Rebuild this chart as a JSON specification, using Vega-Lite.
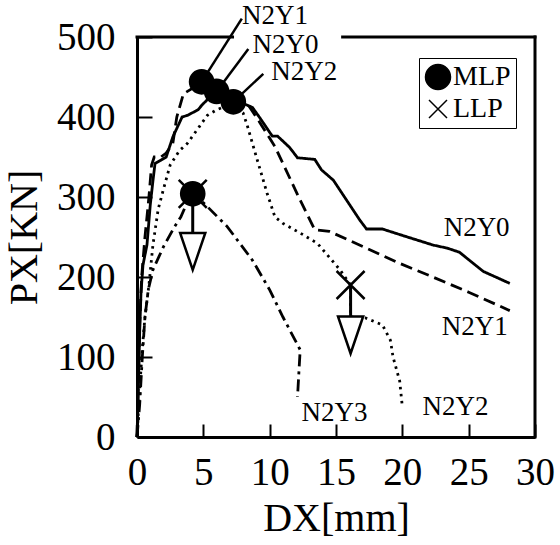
{
  "$schema": "https://vega.github.io/schema/vega-lite/v6.json",
  "autosize": "none",
  "width": 398,
  "height": 400,
  "padding": {"left": 137, "top": 37, "right": 25, "bottom": 108},
  "config": {
    "view": {"stroke": null},
    "font": "Liberation Serif, Times New Roman, serif",
    "axis": {
      "domainColor": "black", "domainWidth": 3, "tickColor": "black", "tickWidth": 2,
      "labelColor": "black", "labelFont": "Liberation Serif, Times New Roman, serif", "labelFontSize": 39,
      "titleFont": "Liberation Serif, Times New Roman, serif", "titleFontSize": 40, "titleFontWeight": "normal", "titleColor": "black",
      "grid": false, "labelFlush": false, "labelOverlap": false
    }
  },
  "datasets": {
    "curves": [
      {"s":"N2Y0","i":0,"x":0,"y":0},{"s":"N2Y0","i":1,"x":0.1,"y":60},{"s":"N2Y0","i":2,"x":0.2,"y":130},{"s":"N2Y0","i":3,"x":0.3,"y":180},{"s":"N2Y0","i":4,"x":0.45,"y":215},{"s":"N2Y0","i":5,"x":0.75,"y":240},{"s":"N2Y0","i":6,"x":1.0,"y":290},{"s":"N2Y0","i":7,"x":1.2,"y":320},{"s":"N2Y0","i":8,"x":1.36,"y":342},{"s":"N2Y0","i":9,"x":1.8,"y":346},{"s":"N2Y0","i":10,"x":2.2,"y":350},{"s":"N2Y0","i":11,"x":2.7,"y":375},{"s":"N2Y0","i":12,"x":3.4,"y":400},{"s":"N2Y0","i":13,"x":3.8,"y":402},{"s":"N2Y0","i":14,"x":4.6,"y":409},{"s":"N2Y0","i":15,"x":4.9,"y":415},{"s":"N2Y0","i":16,"x":5.5,"y":425},{"s":"N2Y0","i":17,"x":6.0,"y":432},{"s":"N2Y0","i":18,"x":6.6,"y":428},{"s":"N2Y0","i":19,"x":7.5,"y":422},{"s":"N2Y0","i":20,"x":8.0,"y":417},{"s":"N2Y0","i":21,"x":8.7,"y":412},{"s":"N2Y0","i":22,"x":9.3,"y":398},{"s":"N2Y0","i":23,"x":10.2,"y":376},{"s":"N2Y0","i":24,"x":10.6,"y":376},{"s":"N2Y0","i":25,"x":11.5,"y":362},{"s":"N2Y0","i":26,"x":12.1,"y":349},{"s":"N2Y0","i":27,"x":13.4,"y":347},{"s":"N2Y0","i":28,"x":13.9,"y":334},{"s":"N2Y0","i":29,"x":14.8,"y":321},{"s":"N2Y0","i":30,"x":16.8,"y":271},{"s":"N2Y0","i":31,"x":17.3,"y":260},{"s":"N2Y0","i":32,"x":18.5,"y":260},{"s":"N2Y0","i":33,"x":20,"y":252},{"s":"N2Y0","i":34,"x":22.3,"y":240},{"s":"N2Y0","i":35,"x":23.4,"y":236},{"s":"N2Y0","i":36,"x":24.3,"y":231},{"s":"N2Y0","i":37,"x":26.1,"y":207},{"s":"N2Y0","i":38,"x":28.1,"y":192},
      {"s":"N2Y1","i":0,"x":0,"y":0},{"s":"N2Y1","i":1,"x":0.1,"y":70},{"s":"N2Y1","i":2,"x":0.2,"y":140},{"s":"N2Y1","i":3,"x":0.35,"y":200},{"s":"N2Y1","i":4,"x":0.6,"y":250},{"s":"N2Y1","i":5,"x":0.9,"y":300},{"s":"N2Y1","i":6,"x":1.1,"y":340},{"s":"N2Y1","i":7,"x":1.3,"y":350},{"s":"N2Y1","i":8,"x":1.8,"y":350},{"s":"N2Y1","i":9,"x":2.2,"y":355},{"s":"N2Y1","i":10,"x":2.7,"y":367},{"s":"N2Y1","i":11,"x":3.0,"y":400},{"s":"N2Y1","i":12,"x":3.5,"y":429},{"s":"N2Y1","i":13,"x":4.2,"y":436},{"s":"N2Y1","i":14,"x":4.87,"y":444},{"s":"N2Y1","i":15,"x":5.5,"y":438},{"s":"N2Y1","i":16,"x":6.5,"y":432},{"s":"N2Y1","i":17,"x":7.5,"y":425},{"s":"N2Y1","i":18,"x":8.3,"y":417},{"s":"N2Y1","i":19,"x":9.3,"y":392},{"s":"N2Y1","i":20,"x":10.4,"y":363},{"s":"N2Y1","i":21,"x":12.3,"y":296},{"s":"N2Y1","i":22,"x":13.4,"y":259},{"s":"N2Y1","i":23,"x":14.5,"y":257},{"s":"N2Y1","i":24,"x":18.5,"y":227},{"s":"N2Y1","i":25,"x":19.8,"y":217},{"s":"N2Y1","i":26,"x":22,"y":202},{"s":"N2Y1","i":27,"x":25,"y":181},{"s":"N2Y1","i":28,"x":28.1,"y":158},
      {"s":"N2Y2","i":0,"x":0,"y":0},{"s":"N2Y2","i":1,"x":0.2,"y":60},{"s":"N2Y2","i":2,"x":0.4,"y":110},{"s":"N2Y2","i":3,"x":0.6,"y":150},{"s":"N2Y2","i":4,"x":0.9,"y":190},{"s":"N2Y2","i":5,"x":1.2,"y":240},{"s":"N2Y2","i":6,"x":1.6,"y":285},{"s":"N2Y2","i":7,"x":2.0,"y":310},{"s":"N2Y2","i":8,"x":2.5,"y":340},{"s":"N2Y2","i":9,"x":3.2,"y":358},{"s":"N2Y2","i":10,"x":3.8,"y":367},{"s":"N2Y2","i":11,"x":4.7,"y":388},{"s":"N2Y2","i":12,"x":5.3,"y":402},{"s":"N2Y2","i":13,"x":6.0,"y":409},{"s":"N2Y2","i":14,"x":6.6,"y":413},{"s":"N2Y2","i":15,"x":7.26,"y":416},{"s":"N2Y2","i":16,"x":8.0,"y":405},{"s":"N2Y2","i":17,"x":8.3,"y":390},{"s":"N2Y2","i":18,"x":9.0,"y":350},{"s":"N2Y2","i":19,"x":9.8,"y":305},{"s":"N2Y2","i":20,"x":10.4,"y":275},{"s":"N2Y2","i":21,"x":11.0,"y":267},{"s":"N2Y2","i":22,"x":12.3,"y":255},{"s":"N2Y2","i":23,"x":13.6,"y":242},{"s":"N2Y2","i":24,"x":15.3,"y":209},{"s":"N2Y2","i":25,"x":16.1,"y":190},{"s":"N2Y2","i":26,"x":16.1,"y":150},{"s":"N2Y2","i":27,"x":17.2,"y":149},{"s":"N2Y2","i":28,"x":18.5,"y":140},{"s":"N2Y2","i":29,"x":19.1,"y":121},{"s":"N2Y2","i":30,"x":19.3,"y":100},{"s":"N2Y2","i":31,"x":19.8,"y":70},{"s":"N2Y2","i":32,"x":20.0,"y":38},
      {"s":"N2Y3","i":0,"x":0,"y":0},{"s":"N2Y3","i":1,"x":0.2,"y":40},{"s":"N2Y3","i":2,"x":0.4,"y":100},{"s":"N2Y3","i":3,"x":0.6,"y":150},{"s":"N2Y3","i":4,"x":0.85,"y":184},{"s":"N2Y3","i":5,"x":1.2,"y":209},{"s":"N2Y3","i":6,"x":2.0,"y":238},{"s":"N2Y3","i":7,"x":2.8,"y":262},{"s":"N2Y3","i":8,"x":3.3,"y":275},{"s":"N2Y3","i":9,"x":3.7,"y":290},{"s":"N2Y3","i":10,"x":4.2,"y":304},{"s":"N2Y3","i":11,"x":4.8,"y":296},{"s":"N2Y3","i":12,"x":5.3,"y":288},{"s":"N2Y3","i":13,"x":6.8,"y":263},{"s":"N2Y3","i":14,"x":8.7,"y":221},{"s":"N2Y3","i":15,"x":10.0,"y":184},{"s":"N2Y3","i":16,"x":11.0,"y":150},{"s":"N2Y3","i":17,"x":12.3,"y":109},{"s":"N2Y3","i":18,"x":12.2,"y":80},{"s":"N2Y3","i":19,"x":12.1,"y":50}
    ],
    "mlp": [
      {"s":"N2Y1","type":"MLP","x":4.87,"y":444},
      {"s":"N2Y0","type":"MLP","x":6.0,"y":432},
      {"s":"N2Y2","type":"MLP","x":7.26,"y":419},
      {"s":"N2Y3","type":"MLP","x":4.2,"y":304}
    ],
    "llp": [
      {"s":"N2Y3","x":4.2,"y":304},
      {"s":"N2Y2","x":16.1,"y":190}
    ],
    "stems": [
      {"s":"N2Y3","x":4.2,"y":304,"y2":255},
      {"s":"N2Y2","x":16.1,"y":190,"y2":150}
    ],
    "triangles": [
      {"s":"N2Y3","x":4.2,"y":232},
      {"s":"N2Y2","x":16.1,"y":127.5}
    ],
    "leaders": [
      {"s":"N2Y1","x":4.87,"y":444,"x2":7.9,"y2":523},
      {"s":"N2Y0","x":6.0,"y":432,"x2":8.39,"y2":485},
      {"s":"N2Y2","x":7.26,"y":419,"x2":9.52,"y2":454}
    ],
    "labels": [
      {"label":"N2Y1","x":10.4,"y":526},
      {"label":"N2Y0","x":11.2,"y":490},
      {"label":"N2Y2","x":12.6,"y":456},
      {"label":"N2Y0","x":25.6,"y":261},
      {"label":"N2Y1","x":25.45,"y":138},
      {"label":"N2Y3","x":14.88,"y":30},
      {"label":"N2Y2","x":24.0,"y":38}
    ],
    "frame": [
      {"x":0,"x2":7.2,"y":500,"y2":500},
      {"x":15.5,"x2":30,"y":500,"y2":500},
      {"x":30,"x2":30,"y":0,"y2":500}
    ]
  },
  "layer": [
    {
      "data": {"name": "frame"},
      "mark": {"type": "rule", "color": "black", "strokeWidth": 3, "strokeCap": "square"},
      "encoding": {
        "x": {"field": "x", "type": "quantitative", "scale": {"domain": [0, 30], "nice": false},
          "axis": {"values": [0,5,10,15,20,25,30], "tickSize": -13, "labelPadding": 29, "title": "DX[mm]", "titlePadding": 6}},
        "x2": {"field": "x2"},
        "y": {"field": "y", "type": "quantitative", "scale": {"domain": [0, 500], "nice": false},
          "axis": {"values": [0,100,200,300,400,500], "tickSize": -15, "labelPadding": 37, "title": "PX[KN]", "titlePadding": 12}},
        "y2": {"field": "y2"}
      }
    },
    {
      "data": {"name": "curves"},
      "mark": {"type": "line", "color": "black", "strokeWidth": 2.8},
      "encoding": {
        "x": {"field": "x", "type": "quantitative"},
        "y": {"field": "y", "type": "quantitative"},
        "order": {"field": "i", "type": "quantitative"},
        "strokeDash": {"field": "s", "type": "nominal", "legend": null,
          "scale": {"domain": ["N2Y0","N2Y1","N2Y2","N2Y3"], "range": [[1,0],[12,6],[2.5,4.5],[12,5,3,5]]}}
      }
    },
    {
      "data": {"name": "leaders"},
      "mark": {"type": "rule", "color": "black", "strokeWidth": 2.5},
      "encoding": {
        "x": {"field": "x", "type": "quantitative"},
        "y": {"field": "y", "type": "quantitative"},
        "x2": {"field": "x2"},
        "y2": {"field": "y2"}
      }
    },
    {
      "data": {"name": "stems"},
      "mark": {"type": "rule", "color": "black", "strokeWidth": 3},
      "encoding": {
        "x": {"field": "x", "type": "quantitative"},
        "y": {"field": "y", "type": "quantitative"},
        "y2": {"field": "y2"}
      }
    },
    {
      "data": {"name": "triangles"},
      "mark": {"type": "point", "shape": "M-0.68,-1L0.68,-1L0,1Z", "size": 1369, "filled": true, "fill": "white", "stroke": "black", "strokeWidth": 2.5, "opacity": 1},
      "encoding": {
        "x": {"field": "x", "type": "quantitative"},
        "y": {"field": "y", "type": "quantitative"}
      }
    },
    {
      "data": {"name": "llp"},
      "mark": {"type": "point", "shape": "M-1,-1L1,1M1,-1L-1,1", "size": 784, "filled": false, "stroke": "black", "strokeWidth": 2.5, "opacity": 1},
      "encoding": {
        "x": {"field": "x", "type": "quantitative"},
        "y": {"field": "y", "type": "quantitative"}
      }
    },
    {
      "data": {"name": "mlp"},
      "mark": {"type": "point", "filled": true, "fill": "black", "stroke": "black", "size": 560, "opacity": 1},
      "encoding": {
        "x": {"field": "x", "type": "quantitative"},
        "y": {"field": "y", "type": "quantitative"},
        "shape": {"field": "type", "type": "nominal",
          "scale": {"domain": ["MLP","LLP"], "range": ["circle", "M-0.72,-0.72L0.72,0.72M0.72,-0.72L-0.72,0.72"]},
          "legend": {
            "title": null, "orient": "none", "legendX": 282, "legendY": 21,
            "padding": 5, "rowPadding": 2, "labelOffset": 1,
            "labelFont": "Liberation Serif, Times New Roman, serif", "labelFontSize": 28, "labelColor": "black",
            "symbolSize": 625, "strokeColor": "black",
            "encode": {
              "legend": {"update": {"strokeWidth": {"value": 3}}},
              "symbols": {"update": {"fill": {"value": "black"}, "stroke": {"value": "black"}, "strokeWidth": {"value": 2.5}, "opacity": {"value": 1}}}
            }
          }
        }
      }
    },
    {
      "data": {"name": "labels"},
      "mark": {"type": "text", "font": "Liberation Serif, Times New Roman, serif", "fontSize": 27, "color": "black", "align": "center", "baseline": "middle"},
      "encoding": {
        "x": {"field": "x", "type": "quantitative"},
        "y": {"field": "y", "type": "quantitative"},
        "text": {"field": "label"}
      }
    }
  ]
}
